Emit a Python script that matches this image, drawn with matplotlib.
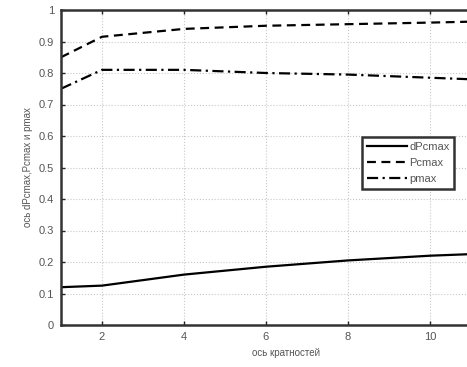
import matplotlib.pyplot as plt

# кратности и значения трёх кривых
k = [1, 2, 4, 6, 8, 10, 11, 12]
dPcmax = [0.120, 0.125, 0.160, 0.185, 0.205, 0.220, 0.225, 0.230]
Pcmax = [0.850, 0.915, 0.940, 0.950, 0.955, 0.960, 0.963, 0.965]
pmax = [0.750, 0.810, 0.810, 0.800, 0.795, 0.785, 0.780, 0.775]

plt.rcParams['font.family'] = ['Liberation Sans', 'DejaVu Sans']

fig = plt.figure(figsize=(4.67, 3.67), dpi=100)
ax = fig.add_axes([61 / 467, 42 / 367, 451 / 467, 315 / 367])

ax.plot(k, dPcmax, color='black', lw=1.6, ls='-', label='dPcmax')
ax.plot(k, Pcmax, color='black', lw=1.6, ls=(0, (4, 2.5)), label='Pcmax')
ax.plot(k, pmax, color='black', lw=1.6, ls=(0, (5, 2, 1, 2)), label='pmax')

ax.set_xlim(1, 12)
ax.set_ylim(0, 1)
ax.set_xticks([2, 4, 6, 8, 10])
ax.set_yticks([i / 10 for i in range(11)])
ax.set_yticklabels(['0', '0.1', '0.2', '0.3', '0.4', '0.5', '0.6', '0.7', '0.8', '0.9', '1'])
ax.grid(True, color='#c8c8c8', ls=':', lw=0.8)
ax.tick_params(direction='in', top=True, right=True, length=3, width=1,
               labelsize=8, labelcolor='#555555', color='#222222', pad=5)
for s in ax.spines.values():
    s.set_linewidth(1.8)
    s.set_color('#333333')

ax.set_xlabel('ось кратностей', fontsize=7, color='#555555', labelpad=4)
ax.set_ylabel('ось dPcmax,Pcmax и pmax', fontsize=7, color='#555555', labelpad=4)

leg = ax.legend(loc='upper left', bbox_to_anchor=(0.667, 0.597), fontsize=8,
                fancybox=False, framealpha=1, edgecolor='#333333',
                handlelength=3.6, handletextpad=0.2, borderpad=0.45,
                labelspacing=0.55, borderaxespad=0)
leg.get_frame().set_linewidth(1.8)
for t in leg.get_texts():
    t.set_color('#555555')

fig.savefig('out.png', dpi=100)
